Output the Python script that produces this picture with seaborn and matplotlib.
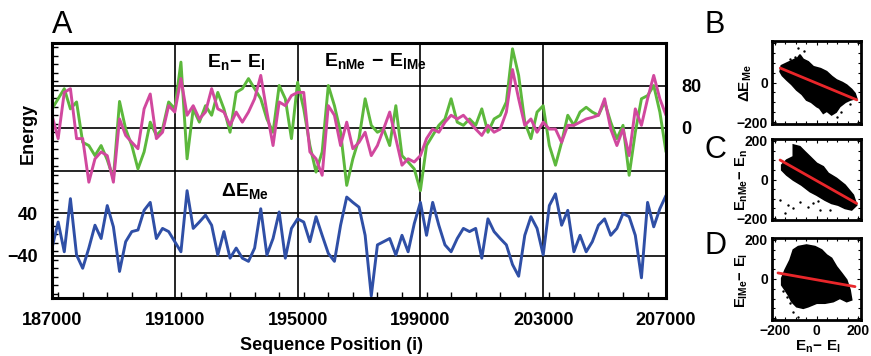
import numpy as np
import matplotlib
matplotlib.use("Agg")
import matplotlib.pyplot as plt
from matplotlib.ticker import MultipleLocator
import seaborn as sns

sns.set_style("white")
plt.rcParams['font.family'] = ['Liberation Sans', 'DejaVu Sans']
plt.rcParams['font.weight'] = 'bold'
plt.rcParams['text.color'] = 'black'
plt.rcParams['axes.labelcolor'] = 'black'
plt.rcParams['xtick.color'] = 'black'
plt.rcParams['ytick.color'] = 'black'
plt.rcParams['mathtext.fontset'] = 'custom'
plt.rcParams['mathtext.rm'] = 'Liberation Sans:bold'
plt.rcParams['mathtext.bf'] = 'Liberation Sans:bold'
plt.rcParams['mathtext.it'] = 'Liberation Sans:bold'

# sequence window, one reading every 200 positions
seq_start, seq_stop, seq_step = 187000, 207000, 200

# E_n - E_l (green)
en_el = [36, 55, 74, 36, 49, -27, -33, -52, -33, -60, -95, 50, -2, -33, -77, -45, 11, -14, -2, 49, 36,
         124, -58, 36, 11, 42, 24, 67, 36, -8, 67, 74, 93, 74, 55, 17, -8, 80, 55, -20, 86,
         36, -33, -83, -45, 80, 42, -8, -108, -58, -20, 55, 5, -8, -2, -33, 42, -52, -64, -77, -118,
         -33, -14, 5, 17, 55, 11, 5, 17, 5, 36, -8, 17, 24, 49, 149, 99, 11, -20, 30, 42,
         -33, -70, -27, 24, 5, 30, 39, 30, 24, 49,
         11, -20, 5, -89, -8, 55, 61, 80, 30, -45]

# E_nMe - E_lMe (magenta)
enme_elme = [24, -20, 67, 74, -20, -20, -102, -58, -45, -52, -102, 17, -14, -27, -39, 36, 64, -20, -8, 42, 30,
             93, 24, 42, 17, 30, 74, 36, 30, 5, 30, 11, 30, 55, 99, 30, -33, 49, 42, 61, 67,
             67, -45, -58, -89, 42, 24, -33, 11, -39, -27, -8, -52, -33, -2, 30, -20, -70, -58, -64, -52,
             -20, -2, -8, 11, 24, 17, 24, 11, -2, -14, 5, -8, -2, 30, 110, 55, 5, 17, -8, 11,
             -2, -2, -27, 5, 5, 11, 17, 20, 24, 55,
             -2, -33, -2, -52, 36, 5, 55, 99, 55, 24]

# Delta E_Me (blue)
de_me = [-26, 23, -33, 67, -39, -64, -26, 17, -8, 54, 14, -70, -14, 5, 8, 45, 60, -8, 11, 5, -14,
         -33, 82, 11, 23, 36, 17, -39, 5, -45, -26, -45, -51, -26, 48, -39, -8, 42, -45, 11, 29,
         23, -14, 33, -2, -36, -51, 17, 70, 60, 51, -2, -116, -20, -14, -8, -39, -2, -33, 20, 60,
         -2, 60, 17, -20, -33, -8, 11, 5, 11, -45, 29, 5, -8, -20, -57, -79, -2, 33, 11, -39,
         54, 76, 17, 45, -33, -2, -33, -14, 17, 29,
         -2, 11, 39, 33, -2, -82, 60, 14, 48, 73]

x_major = [187000, 191000, 195000, 199000, 203000, 207000]

# scatter panels: outline of the dense cloud, stray points, fitted line ends
b_cloud_x = [-176, -170, -140, -112, -90, -80, -64, -40, -15, 20, 49, 75, 97, 125, 146, 170, 186, 194,
             162, 140, 113, 95, 73, 50, 33, 15, 1, -25, -48, -70, -96, -120, -144, -165]
b_cloud_y = [55, 85, 100, 114, 125, 140, 117, 105, 80, 70, 55, 30, 13, 0, -13, -35, -55, -80,
             -89, -100, -122, -150, -164, -145, -156, -130, -122, -100, -89, -60, -38, -10, 13, 35]
b_out_x = [-89, -104, -60, 120, 100, 160, -130]
b_out_y = [173, 131, 160, -150, -175, -110, 120]
b_fit_x = [-175, 195]
b_fit_y = [73, -88]

c_cloud_x = [-168, -144, -112, -112, -80, -56, -31, 1, 33, 57, 97, 138, 178, 194,
             170, 138, 105, 73, 41, 1, -31, -72, -112, -144, -168]
c_cloud_y = [75, 101, 118, 179, 170, 144, 118, 84, 66, 32, 6, -29, -81, -133,
             -158, -150, -133, -124, -107, -81, -63, -29, -3, 23, 49]
c_out_x = [-176, -136, -80, -112, -15, 17, 65, -152, 5, -40]
c_out_y = [-107, -133, -115, -150, -124, -158, -158, -176, -110, -140]
c_fit_x = [-176, 194]
c_fit_y = [101, -124]

d_cloud_x = [-168, -152, -128, -112, -88, -48, -7, 25, 49, 73, 97, 122, 146, 162, 170,
             146, 113, 81, 41, 1, -40, -64, -96, -120, -136, -152, -168]
d_cloud_y = [4, 46, 97, 149, 166, 174, 166, 149, 123, 106, 63, 29, -5, -56, -107,
             -116, -99, -116, -124, -124, -142, -150, -142, -116, -82, -56, -31]
d_out_x = [-144, -128, -88, -112, -160]
d_out_y = [-90, -124, -193, -167, -60]
d_fit_x = [-186, 186]
d_fit_y = [31, -39]

GREEN = '#5cb83c'
MAGENTA = '#d1489e'
BLUE = '#2f4fa6'
RED = '#e8262a'

W, H = 871, 356
fig = plt.figure(figsize=(W / 100, H / 100), dpi=100)

# ---- panel A ----
top_shift = 200  # the two upper traces sit 200 units above the blue one
pos = np.arange(seq_start, seq_stop + 1, seq_step)

axA = fig.add_axes([52 / W, 1 - 298 / H, 614 / W, 255 / H])
sns.lineplot(x=pos, y=np.array(de_me), ax=axA, color=BLUE, lw=2.1)
sns.lineplot(x=pos, y=np.array(en_el) + top_shift, ax=axA, color=GREEN, lw=2.1)
sns.lineplot(x=pos, y=np.array(enme_elme) + top_shift, ax=axA, color=MAGENTA, lw=2.1)

axA.set_xlim(seq_start, seq_stop)
axA.set_ylim(-120, 360)
axA.set_xticks(x_major)
axA.set_xticklabels([str(v) for v in x_major])
axA.xaxis.set_minor_locator(MultipleLocator(800))
axA.set_yticks([-40, 40, 120, 200, 280])
axA.set_yticklabels(['\u221240', '40', '', '', ''])
axA.yaxis.set_minor_locator(MultipleLocator(16))
axA.grid(True, which='major', color='black', lw=1.2)
axA.tick_params(which='major', length=0, labelsize=13, pad=10)
axA.tick_params(which='minor', direction='in', length=4, width=1, color='black',
                left=True, right=True, bottom=True, top=False)
axA.set_xlabel('')
axA.set_ylabel('')
for s in axA.spines.values():
    s.set_color('black')
    s.set_linewidth(2.2)

axR = axA.twinx()
axR.set_ylim(-120, 360)
axR.set_yticks([200, 280])
axR.set_yticklabels(['0', '80'])
axR.tick_params(length=0, labelsize=13, pad=11)
for s in axR.spines.values():
    s.set_visible(False)

fig.text(62 / W, 1 - 25 / H, 'A', fontsize=22, fontweight='normal', ha='center', va='center')
fig.text(236 / W, 1 - 62 / H, r'$\mathbf{E_n\!-\,E_l}$', fontsize=14, ha='center', va='center')
fig.text(375 / W, 1 - 61 / H, r'$\mathbf{E_{nMe}\,-\,E_{lMe}}$', fontsize=14, ha='center', va='center')
fig.text(245 / W, 1 - 191 / H, r'$\mathbf{\Delta E_{Me}}$', fontsize=14, ha='center', va='center')
fig.text(28 / W, 1 - 133 / H, 'Energy', fontsize=13, rotation=90, ha='center', va='center')
fig.text(332 / W, 1 - 345 / H, 'Sequence Position (i)', fontsize=13, ha='center', va='center')


# ---- panels B, C, D ----
def scatter_panel(top, bottom, cx, cy, ox, oy, fx, fy, ylabs, xlabs):
    ax = fig.add_axes([772 / W, 1 - bottom / H, 89 / W, (bottom - top) / H])
    ax.fill(cx, cy, color='black', lw=1.2)
    sns.scatterplot(x=ox, y=oy, ax=ax, color='black', s=3, linewidth=0)
    sns.lineplot(x=fx, y=fy, ax=ax, color=RED, lw=2)
    ax.set_xlim(-215, 215)
    ax.set_ylim(-210, 210)
    ax.set_yticks([-200, 0, 200])
    ax.set_yticklabels(ylabs)
    ax.set_xticks([-200, 0, 200])
    ax.set_xticklabels(xlabs)
    ax.xaxis.set_minor_locator(MultipleLocator(50))
    ax.yaxis.set_minor_locator(MultipleLocator(50))
    ax.tick_params(which='both', direction='in', top=True, right=True, left=True, bottom=True,
                   color='black', width=0.8)
    ax.tick_params(which='major', length=3, labelsize=10, pad=3)
    ax.tick_params(which='minor', length=2)
    ax.set_xlabel('')
    ax.set_ylabel('')
    for s in ax.spines.values():
        s.set_color('black')
        s.set_linewidth(2)
    return ax


scatter_panel(41, 124, b_cloud_x, b_cloud_y, b_out_x, b_out_y, b_fit_x, b_fit_y,
              ['\u2212200', '0', ''], ['', '', ''])
scatter_panel(139, 220, c_cloud_x, c_cloud_y, c_out_x, c_out_y, c_fit_x, c_fit_y,
              ['\u2212200', '0', '200'], ['', '', ''])
scatter_panel(238, 320, d_cloud_x, d_cloud_y, d_out_x, d_out_y, d_fit_x, d_fit_y,
              ['', '0', '200'], ['\u2212200', '0', '200'])

for letter, yc in [('B', 25), ('C', 150), ('D', 246)]:
    fig.text(715 / W, 1 - yc / H, letter, fontsize=22, fontweight='normal', ha='center', va='center')

fig.text(746 / W, 1 - 83 / H, r'$\mathbf{\Delta E_{Me}}$', fontsize=11, rotation=90, ha='center', va='center')
fig.text(742 / W, 1 - 180 / H, r'$\mathbf{E_{nMe}\!-\,E_n}$', fontsize=10.5, rotation=90, ha='center', va='center')
fig.text(742 / W, 1 - 280 / H, r'$\mathbf{E_{lMe}\!-\,E_l}$', fontsize=10.5, rotation=90, ha='center', va='center')
fig.text(818 / W, 1 - 347 / H, r'$\mathbf{E_n\!-\,E_l}$', fontsize=11, ha='center', va='center')

fig.savefig('out.png', dpi=100)
